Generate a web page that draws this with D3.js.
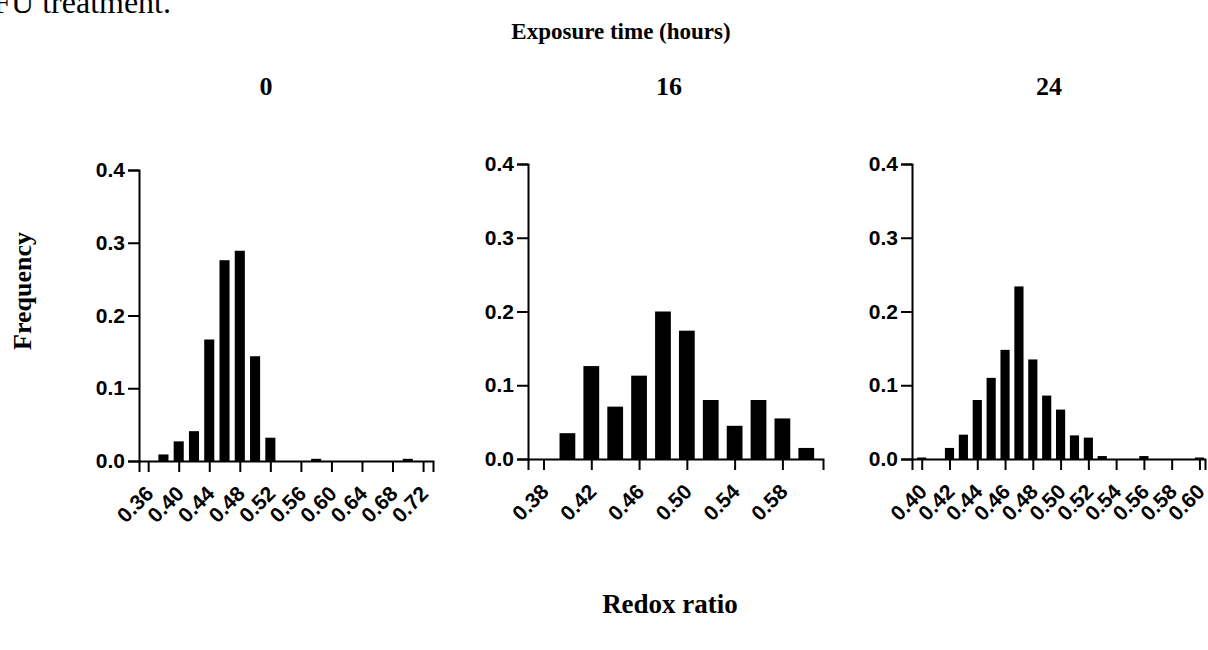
<!DOCTYPE html>
<html>
<head>
	<meta charset="utf-8"/>
	<title>Redox ratio histograms</title>
	<script src="https://cdn.jsdelivr.net/npm/d3@7"></script>
	<style type="text/css">
		body { margin: 0; background: #fff; }
		svg { display: block; }
	</style>
</head>
<body>
	<svg id="chart" width="1208" height="650"></svg>
	<script type="text/javascript">

		// exposure times (panel titles)
		var times = ["0", "16", "24"];

		// 0 h : bin centres and frequencies
		var bins0 = [0.38, 0.40, 0.42, 0.44, 0.46, 0.48, 0.50, 0.52, 0.58, 0.70];
		var freq0 = [0.009, 0.027, 0.041, 0.167, 0.276, 0.289, 0.144, 0.032, 0.003, 0.003];
		var ticks0 = [0.36, 0.40, 0.44, 0.48, 0.52, 0.56, 0.60, 0.64, 0.68, 0.72];

		// 16 h
		var bins16 = [0.40, 0.42, 0.44, 0.46, 0.48, 0.50, 0.52, 0.54, 0.56, 0.58, 0.60];
		var freq16 = [0.035, 0.126, 0.071, 0.113, 0.200, 0.174, 0.080, 0.045, 0.080, 0.055, 0.015];
		var ticks16 = [0.38, 0.42, 0.46, 0.50, 0.54, 0.58];

		// 24 h
		var bins24 = [0.40, 0.42, 0.43, 0.44, 0.45, 0.46, 0.47, 0.48, 0.49, 0.50, 0.51, 0.52, 0.53, 0.56, 0.60];
		var freq24 = [0.002, 0.015, 0.033, 0.080, 0.110, 0.148, 0.234, 0.135, 0.086, 0.067, 0.032, 0.029, 0.004, 0.004, 0.002];
		var ticks24 = [0.40, 0.42, 0.44, 0.46, 0.48, 0.50, 0.52, 0.54, 0.56, 0.58, 0.60];

		var yTicks = [0.0, 0.1, 0.2, 0.3, 0.4];

		var panels = [
			{title: times[0], bins: bins0, freq: freq0, ticks: ticks0, binW: 0.02,
			 xd: [0.348, 0.733], xr: [139, 433], yr: [461, 170], tx: 266},
			{title: times[1], bins: bins16, freq: freq16, ticks: ticks16, binW: 0.02,
			 xd: [0.367, 0.614], xr: [528, 823], yr: [459, 164], tx: 669},
			{title: times[2], bins: bins24, freq: freq24, ticks: ticks24, binW: 0.01,
			 xd: [0.393, 0.604], xr: [912, 1205], yr: [459, 164], tx: 1049}
		];

		var svg = d3.select("#chart");
		var serif = "'Liberation Serif', 'Times New Roman', serif";
		var sans = "'Liberation Sans', Arial, sans-serif";

		// cropped caption line from the page above
		svg.append("text")
			.attr("x", 171).attr("y", 13)
			.attr("text-anchor", "end")
			.style("font-family", serif).style("font-size", "32px")
			.text("5-FU treatment.");

		svg.append("text")
			.attr("x", 621).attr("y", 39)
			.attr("text-anchor", "middle")
			.style("font-family", serif).style("font-size", "23px").style("font-weight", "bold")
			.text("Exposure time (hours)");

		svg.append("text")
			.attr("transform", "translate(31,291) rotate(-90)")
			.attr("text-anchor", "middle")
			.style("font-family", serif).style("font-size", "26px").style("font-weight", "bold")
			.text("Frequency");

		svg.append("text")
			.attr("x", 670).attr("y", 613)
			.attr("text-anchor", "middle")
			.style("font-family", serif).style("font-size", "27px").style("font-weight", "bold")
			.text("Redox ratio");

		panels.forEach(function(p) {
			var x = d3.scaleLinear().domain(p.xd).range(p.xr);
			var y = d3.scaleLinear().domain([0, 0.4]).range(p.yr);
			var g = svg.append("g");

			svg.append("text")
				.attr("x", p.tx).attr("y", 95)
				.attr("text-anchor", "middle")
				.style("font-family", serif).style("font-size", "26px").style("font-weight", "bold")
				.text(p.title);

			var bw = (x(p.binW) - x(0)) * 0.66;
			g.selectAll("rect")
				.data(p.bins).enter()
				.append("rect")
					.attr("x", function(d) { return x(d) - bw / 2; })
					.attr("width", bw)
					.attr("y", function(d, i) { return y(p.freq[i]); })
					.attr("height", function(d, i) { return y(0) - y(p.freq[i]); })
					.style("fill", "#000");

			var yAxis = g.append("g")
				.attr("transform", "translate(" + p.xr[0] + ",0)")
				.call(d3.axisLeft(y).tickValues(yTicks).tickFormat(d3.format(".1f"))
					.tickSizeOuter(0).tickSize(11).tickPadding(3));

			var xAxis = g.append("g")
				.attr("transform", "translate(0," + p.yr[0] + ")")
				.call(d3.axisBottom(x).tickValues(p.ticks).tickFormat(d3.format(".2f"))
					.tickSizeOuter(0).tickSize(11));

			xAxis.selectAll("text")
				.attr("y", 0).attr("dy", 0)
				.attr("text-anchor", "end")
				.attr("transform", "translate(6,34) rotate(-45)");

			[yAxis, xAxis].forEach(function(a) {
				a.selectAll("path, line").style("stroke", "#000").style("stroke-width", "2px");
				a.selectAll("text")
					.style("font-family", sans).style("font-size", "21px")
					.style("font-weight", "bold").style("fill", "#000");
			});
		});
	</script>
</body>
</html>
